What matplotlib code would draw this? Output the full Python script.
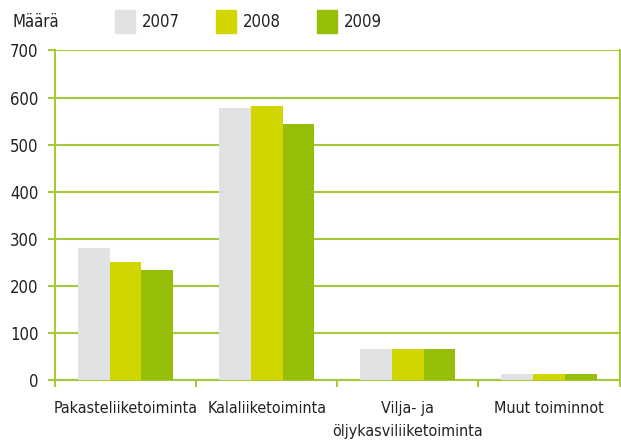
import numpy as np
import matplotlib.pyplot as plt
from matplotlib.patches import Rectangle

categories = ["Pakasteliiketoiminta", "Kalaliiketoiminta", "Vilja- ja\nöljykasviliiketoiminta", "Muut toiminnot"]
years = ["2007", "2008", "2009"]
v2007 = [280, 577, 66, 12]
v2008 = [250, 583, 66, 12]
v2009 = [233, 543, 66, 12]
colors = ["#e1e2e3", "#d2d600", "#95be08"]
line_col = "#a6c93a"

plt.rcParams['font.family'] = ['DejaVu Sans']
plt.rcParams['font.stretch'] = 'condensed'

fig = plt.figure(figsize=(6.21, 4.42), dpi=100)
ax = fig.add_axes([0.0886, 0.140, 0.909, 0.747])

x = np.arange(len(categories))
w = 0.225
for i, vals in enumerate([v2007, v2008, v2009]):
    ax.bar(x + (i - 1) * w, vals, w, color=colors[i], zorder=3)

ax.set_xlim(-0.5, len(categories) - 0.5)
ax.set_ylim(0, 701)
ax.set_yticks(range(0, 701, 100))
ax.yaxis.grid(True, color=line_col, linewidth=1.5, zorder=0)
ax.set_xticks(x)
ax.set_xticklabels(categories, fontsize=11.5, color="#222222", linespacing=1.65)
ax.set_xticks(np.arange(-0.5, len(categories), 1), minor=True)
ax.tick_params(axis='x', which='major', length=0, pad=15)
ax.tick_params(axis='x', which='minor', length=5, color=line_col, width=1.5)
ax.tick_params(axis='y', length=5, color=line_col, width=1.5, labelsize=12,
               labelcolor="#222222", pad=7)
for s in ["left", "right", "bottom"]:
    ax.spines[s].set_color(line_col)
    ax.spines[s].set_linewidth(1.5)
ax.spines["top"].set_visible(False)

fig.text(12 / 621, 1 - 22 / 442, "Määrä", fontsize=12, va="center", ha="left", color="#222222")
lx = [115, 216, 317]
for i, yr in enumerate(years):
    fig.patches.append(Rectangle((lx[i] / 621, 1 - 33 / 442), 20 / 621, 23 / 442,
                                 transform=fig.transFigure, color=colors[i]))
    fig.text((lx[i] + 27) / 621, 1 - 22 / 442, yr, fontsize=12, va="center", ha="left", color="#222222")

fig.savefig("out.png", dpi=100)
